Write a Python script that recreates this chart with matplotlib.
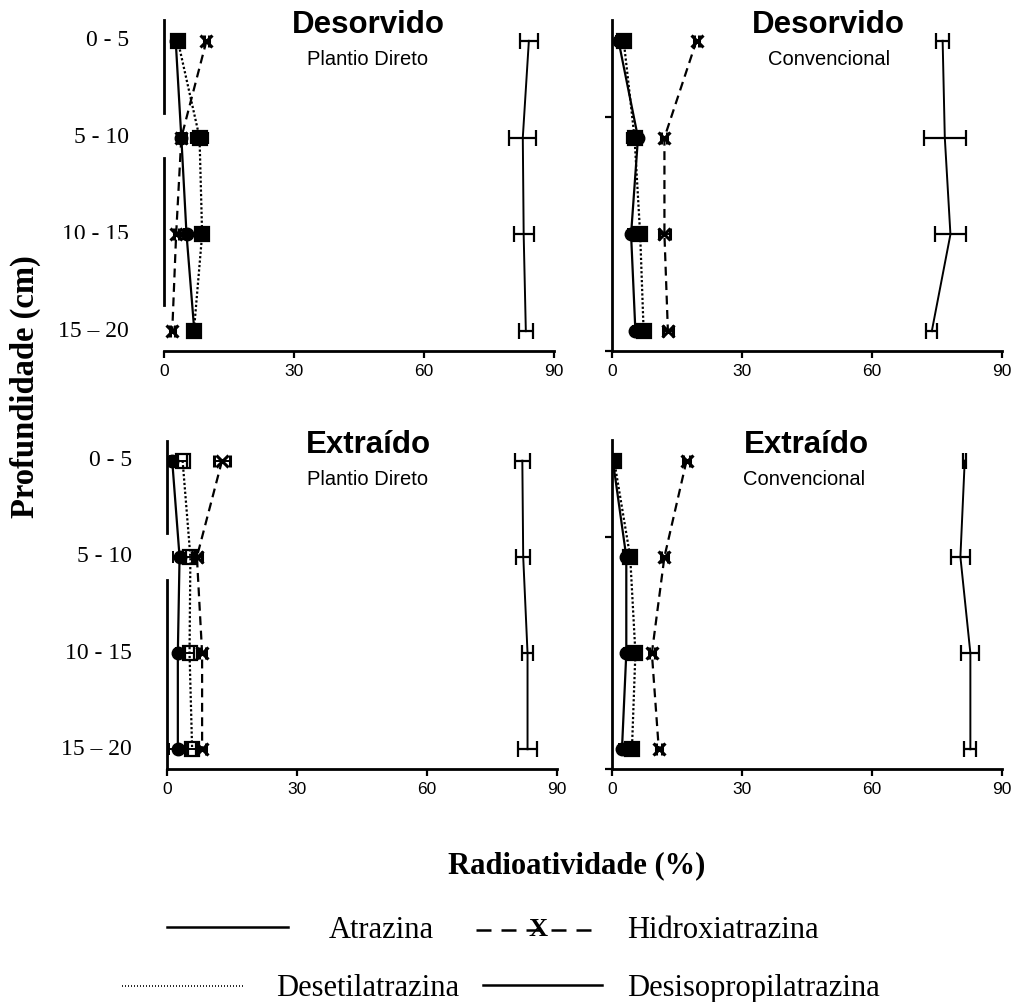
import matplotlib
matplotlib.use("Agg")
import matplotlib.pyplot as plt
from matplotlib.lines import Line2D
from matplotlib.patches import Rectangle

W, H = 1019, 1002

depths = ["0 - 5", "5 - 10", "10 - 15", "15 – 20"]
xticks = [0, 30, 60, 90]
rows = [1, 2, 3, 4]

# Desorvido - Plantio Direto
dpd_atrazina = [84.2, 82.8, 83.0, 83.5]
dpd_atrazina_err = [2.1, 3.1, 2.3, 1.6]
dpd_hidroxi = [9.8, 4.0, 2.8, 1.9]
dpd_hidroxi_err = [0.6, 1.0, 0.6, 0.6]
dpd_desetil = [3.2, 8.2, 8.8, 6.9]
dpd_desetil_err = [0.6, 1.9, 0.6, 0.5]
dpd_desisop = [2.7, 4.0, 5.2, 7.0]
dpd_desisop_err = [0.5, 0.8, 0.5, 0.5]

# Desorvido - Convencional
dcv_atrazina = [76.3, 76.8, 78.1, 73.8]
dcv_atrazina_err = [1.5, 4.8, 3.5, 1.3]
dcv_hidroxi = [19.5, 12.1, 12.1, 12.9]
dcv_hidroxi_err = [0.6, 0.7, 1.2, 1.1]
dcv_desetil = [2.7, 5.2, 6.5, 7.3]
dcv_desetil_err = [0.8, 1.8, 0.8, 0.8]
dcv_desisop = [1.5, 6.0, 4.4, 5.4]
dcv_desisop_err = [0.5, 0.8, 0.6, 0.6]

# Extraído - Plantio Direto
epd_atrazina = [82.0, 82.2, 83.2, 83.2]
epd_atrazina_err = [1.8, 1.6, 1.2, 2.1]
epd_hidroxi = [12.7, 6.9, 8.1, 8.1]
epd_hidroxi_err = [1.9, 1.2, 0.8, 1.0]
epd_desetil = [3.6, 5.4, 5.2, 5.8]
epd_desetil_err = [1.0, 1.0, 1.0, 1.0]
epd_desisop = [1.2, 2.9, 2.5, 2.5]
epd_desisop_err = [0.6, 1.5, 0.5, 2.0]

# Extraído - Convencional
ecv_atrazina = [81.4, 80.4, 82.7, 82.7]
ecv_atrazina_err = [0.4, 2.1, 2.1, 1.4]
ecv_hidroxi = [17.2, 12.1, 9.2, 10.8]
ecv_hidroxi_err = [0.8, 0.9, 0.7, 0.7]
ecv_desetil = [0.5, 4.2, 5.4, 4.6]
ecv_desetil_err = [0.5, 0.8, 1.0, 0.8]
ecv_desisop = [0.2, 3.3, 3.3, 2.3]
ecv_desisop_err = [0.3, 0.6, 0.6, 0.6]

SANS = "Liberation Sans"
SERIF = "Liberation Serif"

fig = plt.figure(figsize=(W / 100, H / 100), dpi=100)


def fx(x):
    return x / W


def fy(y):
    return 1 - y / H


def box(x0, y0, x1, y1):
    return [fx(x0), fy(y1), (x1 - x0) / W, (y1 - y0) / H]


def panel(rect, data, open_sq, spine_parts, ytick, show_labels):
    ax = fig.add_axes(rect)
    (atz, atz_e, hid, hid_e, det, det_e, dip, dip_e) = data
    ek = dict(ecolor="black", elinewidth=1.4, capsize=4, capthick=1.4)
    ax.errorbar(atz, rows, xerr=atz_e, color="black", lw=1.4, marker="none",
                ecolor="black", elinewidth=1.6, capsize=5.5, capthick=1.6, zorder=3)
    ax.errorbar(hid, rows, xerr=hid_e, color="black", lw=1.6, ls=(0, (4, 2.5)),
                marker="x", ms=8, mew=2.2, zorder=4, **ek)
    ax.errorbar(dip, rows, xerr=dip_e, color="black", lw=1.6, ls="-",
                marker="o", ms=9, mfc="black", zorder=5, **ek)
    ax.errorbar(det, rows, xerr=det_e, color="black", lw=1.6, ls=(0, (1, 1)),
                marker="s", ms=9.5, mfc="none" if open_sq else "black",
                mec="black", mew=1.6, zorder=6, **ek)

    ax.set_xlim(0, 90)
    ax.set_ylim(4.205, 0.785)
    ax.set_xticks(xticks)
    ax.set_xticklabels([str(v) for v in xticks], fontfamily=SANS, fontsize=12.5)
    ax.tick_params(axis="x", direction="out", length=5, width=1.6, pad=4)
    for s in ("top", "right"):
        ax.spines[s].set_visible(False)
    ax.spines["bottom"].set_linewidth(2)
    ax.patch.set_visible(False)

    if spine_parts is None:
        ax.spines["left"].set_linewidth(2)
        ax.set_yticks([ytick, 4.205])
        ax.set_yticklabels([])
        ax.tick_params(axis="y", direction="out", length=5, width=1.6)
    else:
        ax.spines["left"].set_visible(False)
        ax.set_yticks([])
        for y0, y1 in spine_parts:
            ax.plot([0, 0], [y0, y1], color="black", lw=2,
                    transform=ax.get_yaxis_transform(), clip_on=False)

    labels = []
    if show_labels:
        for r, lab in zip(rows, depths):
            t = ax.text(-0.09, r, lab, transform=ax.get_yaxis_transform(),
                        ha="right", va="center", fontfamily=SERIF, fontsize=17)
            labels.append(t)
    return ax, labels


def titles(cx_big, cx_small, base_big, base_small, big, small):
    fig.text(fx(cx_big), fy(base_big), big, ha="center", va="baseline",
             fontfamily=SANS, fontweight="bold", fontsize=22.5)
    fig.text(fx(cx_small), fy(base_small), small, ha="center", va="baseline",
             fontfamily=SANS, fontsize=14.5)


ax1, lab1 = panel(box(164, 20, 554, 351),
                  (dpd_atrazina, dpd_atrazina_err, dpd_hidroxi, dpd_hidroxi_err,
                   dpd_desetil, dpd_desetil_err, dpd_desisop, dpd_desisop_err),
                  False, [(0.785, 1.745), (2.21, 3.73)], None, True)
ax2, _ = panel(box(612, 20, 1002, 351),
               (dcv_atrazina, dcv_atrazina_err, dcv_hidroxi, dcv_hidroxi_err,
                dcv_desetil, dcv_desetil_err, dcv_desisop, dcv_desisop_err),
               False, None, 1.786, False)
ax3, _ = panel(box(167, 440, 557, 769),
               (epd_atrazina, epd_atrazina_err, epd_hidroxi, epd_hidroxi_err,
                epd_desetil, epd_desetil_err, epd_desisop, epd_desisop_err),
               True, [(0.793, 1.755), (2.24, 4.205)], None, True)
ax4, _ = panel(box(612, 440, 1002, 769),
               (ecv_atrazina, ecv_atrazina_err, ecv_hidroxi, ecv_hidroxi_err,
                ecv_desetil, ecv_desetil_err, ecv_desisop, ecv_desisop_err),
               False, None, 1.796, False)

# the "10 - 15" label of the upper-left panel is cut off along its lower edge
clip = Rectangle((0, fy(239)), fx(160), fy(200) - fy(239),
                 transform=fig.transFigure, visible=False)
fig.add_artist(clip)
lab1[2].set_clip_path(clip)
lab1[2].set_clip_on(True)

titles(368, 368, 33, 65, "Desorvido", "Plantio Direto")
titles(828, 829, 33, 65, "Desorvido", "Convencional")
titles(368, 368, 453, 485, "Extraído", "Plantio Direto")
titles(806, 804, 453, 485, "Extraído", "Convencional")

fig.text(fx(25), fy(387), "Profundidade (cm)", rotation=90, ha="center",
         va="center", fontfamily=SERIF, fontweight="bold", fontsize=23.5)
fig.text(fx(577), fy(866), "Radioatividade (%)", ha="center", va="center",
         fontfamily=SERIF, fontweight="bold", fontsize=22)


# legend
def leg_line(x0, x1, y, ls, lw=1.8):
    fig.add_artist(Line2D([fx(x0), fx(x1)], [fy(y), fy(y)],
                          color="black", lw=lw, ls=ls))


def leg_text(x, y, s):
    fig.text(fx(x), fy(y), s, ha="left", va="center_baseline",
             fontfamily=SERIF, fontsize=22)


leg_line(167, 288, 927, "-")
leg_text(329, 927, "Atrazina")
leg_line(476, 595, 930, (0, (6, 4)))
fig.text(fx(538), fy(927), "X", ha="center", va="center_baseline",
         fontfamily=SERIF, fontweight="bold", fontsize=19)
leg_text(627, 927, "Hidroxiatrazina")
leg_line(122, 244, 986, (0, (0.6, 1.2)), lw=1.2)
leg_text(276, 985, "Desetilatrazina")
leg_line(483, 602, 985, "-")
leg_text(627, 985, "Desisopropilatrazina")

fig.savefig("out.png", dpi=100)
